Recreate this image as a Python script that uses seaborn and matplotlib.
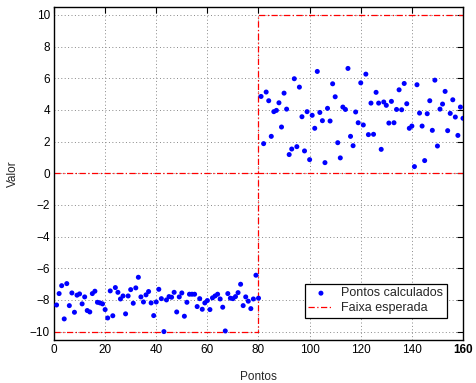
import matplotlib
matplotlib.use("Agg")
import matplotlib.pyplot as plt
import seaborn as sns
import numpy as np
import pandas as pd

# --- data ---
pontos_baixo = [-8.32, -7.60, -7.10, -9.20, -6.97, -8.36, -7.56, -8.78, -7.70, -7.62,
                -8.25, -7.81, -8.67, -8.76, -7.60, -7.45, -8.15, -8.19, -8.25, -8.61,
                -9.14, -7.43, -9.00, -7.22, -7.52, -7.94, -7.75, -8.88, -7.75, -7.35,
                -8.21, -7.24, -6.57, -7.81, -8.13, -7.68, -7.47, -8.19, -8.99, -8.13,
                -7.33, -7.92, -10.00, -8.00, -7.79, -7.83, -7.52, -8.76, -7.81, -7.56,
                -9.03, -8.15, -7.64, -7.64, -7.64, -8.42, -7.92, -8.59, -8.19, -8.04,
                -8.61, -7.87, -7.75, -7.64, -7.94, -8.46, -9.96, -7.60, -7.89, -7.92,
                -7.79, -7.54, -7.01, -8.36, -7.81, -8.08, -8.55, -7.94, -6.44, -7.89]
pontos_alto = [4.85, 1.87, 5.13, 4.58, 2.33, 3.89, 3.97, 4.45, 2.92, 5.06,
               4.05, 1.18, 1.53, 5.97, 1.68, 5.44, 3.57, 1.41, 3.89, 0.86,
               3.66, 2.84, 6.43, 3.84, 3.32, 0.67, 4.10, 3.30, 5.65, 4.83,
               1.93, 0.97, 4.18, 4.03, 6.62, 2.33, 1.74, 3.87, 3.19, 5.71,
               3.05, 6.26, 2.44, 4.43, 2.46, 5.11, 4.43, 1.51, 4.50, 4.29,
               3.17, 4.54, 3.19, 4.03, 5.27, 4.01, 5.67, 4.39, 2.84, 2.98,
               0.42, 5.59, 3.80, 2.98, 0.80, 3.76, 4.58, 2.71, 5.88, 1.72,
               4.05, 4.37, 5.17, 2.69, 3.78, 4.64, 3.55, 2.39, 4.18, 3.47]
valores = pontos_baixo + pontos_alto
indices = list(range(1, len(valores) + 1))

faixa_x = [0, 80, 80, 160]
faixa_sup = [0, 0, 10, 10]
faixa_inf = [-10, -10, 0, 0]

x_ticks = [0, 20, 40, 60, 80, 100, 120, 140, 160]
y_ticks = [-10, -8, -6, -4, -2, 0, 2, 4, 6, 8, 10]

sns.set_theme(style="white")
plt.rcParams['font.family'] = ['Liberation Sans', 'DejaVu Sans']
plt.rcParams['axes.unicode_minus'] = True

fig = plt.figure(figsize=(4.77, 3.83), dpi=100)
ax = fig.add_axes([54/477, 1 - 339.5/383, (463-54)/477, (339.5-7)/383])

df = pd.DataFrame({"Pontos": indices, "Valor": valores})
sns.scatterplot(data=df, x="Pontos", y="Valor", ax=ax, color="#0000ff", s=13,
                edgecolor="none", linewidth=0, label="Pontos calculados", zorder=3)

sns.lineplot(x=faixa_x, y=faixa_sup, ax=ax, sort=False, estimator=None, color="#ff0000",
             linestyle=(0, (5, 2, 1, 2)), linewidth=0.9, label="Faixa esperada", zorder=2)
sns.lineplot(x=faixa_x, y=faixa_inf, ax=ax, sort=False, estimator=None, color="#ff0000",
             linestyle=(0, (5, 2, 1, 2)), linewidth=0.9, legend=False, zorder=2)

ax.set_xlim(0, 160)
ax.set_ylim(-10.5, 10.5)
ax.set_xticks(x_ticks)
ax.set_yticks(y_ticks)
ax.tick_params(direction="in", length=4, width=0.8, top=True, right=True,
               labelsize=8.5, colors="black", pad=3)
for lbl in ax.get_xticklabels():
    if lbl.get_text() == "160":
        lbl.set_fontweight("bold")
ax.grid(True, linestyle=(0, (1, 2.5)), color="#888888", linewidth=0.7)
for sp in ax.spines.values():
    sp.set_color("black")
    sp.set_linewidth(1.0)

ax.set_xlabel("Pontos", fontsize=8.5, labelpad=11)
ax.set_ylabel("Valor", fontsize=8.5, labelpad=8)

leg = ax.legend(loc="lower right", bbox_to_anchor=(446.7/477, 1 - 317.7/383),
                bbox_transform=fig.transFigure, fontsize=9, frameon=True,
                fancybox=False, edgecolor="black", framealpha=1, borderpad=0.3,
                handlelength=2.0, labelspacing=0.2, handletextpad=0.6, borderaxespad=0)
leg.get_frame().set_linewidth(0.9)

fig.savefig("out.png", dpi=100)
